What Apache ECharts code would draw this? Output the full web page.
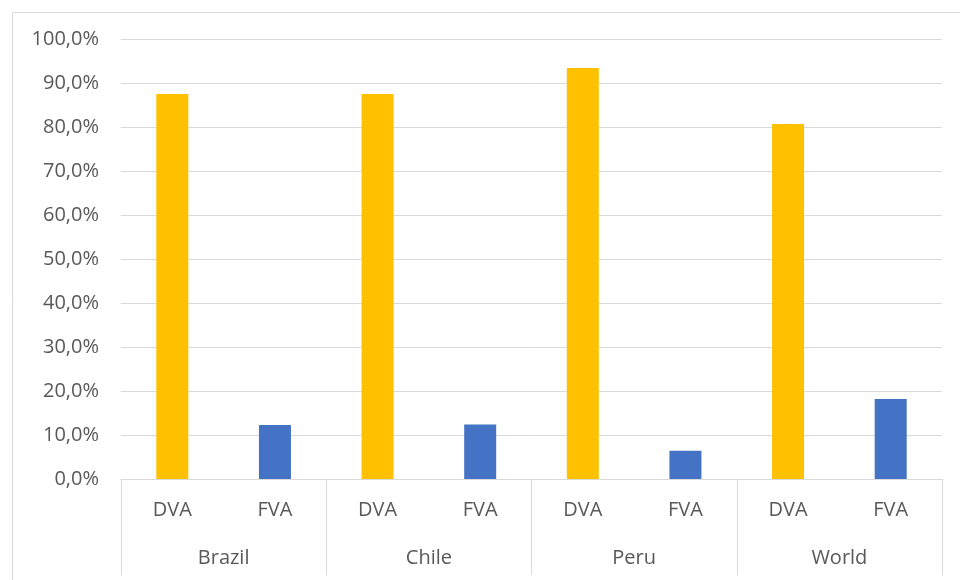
<!DOCTYPE html>
<html>
<head>
<meta charset="utf-8">
<script src="https://cdn.jsdelivr.net/npm/echarts@6/dist/echarts.min.js"></script>
<style>html,body{margin:0;padding:0;background:#fff}#c{width:960px;height:580px}</style>
</head>
<body>
<div id="c"></div>
<script>
var countries = ['Brazil', 'Chile', 'Peru', 'World'];
var measures = ['DVA', 'FVA'];
var dvaValues = [87.5, 87.5, 93.4, 80.7];
var fvaValues = [12.3, 12.4, 6.4, 18.2];
var yTicks = [0, 10, 20, 30, 40, 50, 60, 70, 80, 90, 100];

var cats = [];
var dvaData = [];
var fvaData = [];
countries.forEach(function (c, i) {
  cats.push(measures[0]); dvaData.push(dvaValues[i]); fvaData.push(null);
  cats.push(measures[1]); dvaData.push(null); fvaData.push(fvaValues[i]);
});

var font = '"Open Sans", "Noto Sans", sans-serif';
var chart = echarts.init(document.getElementById('c'), null, {renderer: 'canvas'});
chart.setOption({
  animation: false,
  backgroundColor: '#ffffff',
  graphic: [{
    type: 'rect', left: 10, top: 10, shape: {x: 0, y: 0, width: 960, height: 580},
    style: {fill: 'none', stroke: '#d9d9d9', lineWidth: 1}, silent: true, z: -1
  }],
  grid: {left: 121, right: 18, top: 39, bottom: 101, containLabel: false},
  xAxis: [{
    type: 'category', data: cats, position: 'bottom',
    axisLine: {show: true, lineStyle: {color: '#d9d9d9', width: 1}},
    axisTick: {show: false},
    axisLabel: {color: '#595959', fontFamily: font, fontSize: 20, margin: 21, interval: 0}
  }, {
    type: 'category', data: countries, position: 'bottom',
    axisLine: {show: false},
    axisTick: {show: true, interval: 0, length: 96, alignWithLabel: false, lineStyle: {color: '#d9d9d9', width: 1}},
    axisLabel: {color: '#595959', fontFamily: font, fontSize: 20, margin: 69, interval: 0}
  }],
  yAxis: {
    type: 'value', min: yTicks[0], max: yTicks[yTicks.length - 1], interval: 10,
    axisLine: {show: false}, axisTick: {show: false},
    splitLine: {lineStyle: {color: '#d9d9d9', width: 1}},
    axisLabel: {color: '#595959', fontFamily: font, fontSize: 20, margin: 22,
      formatter: function (v) { return v.toFixed(1).replace('.', ',') + '%'; }}
  },
  series: [{
    name: 'DVA', type: 'bar', stack: 's', data: dvaData, barWidth: 32,
    itemStyle: {color: '#ffc000'}
  }, {
    name: 'FVA', type: 'bar', stack: 's', data: fvaData, barWidth: 32,
    itemStyle: {color: '#4472c4'}
  }]
});
</script>
</body>
</html>
